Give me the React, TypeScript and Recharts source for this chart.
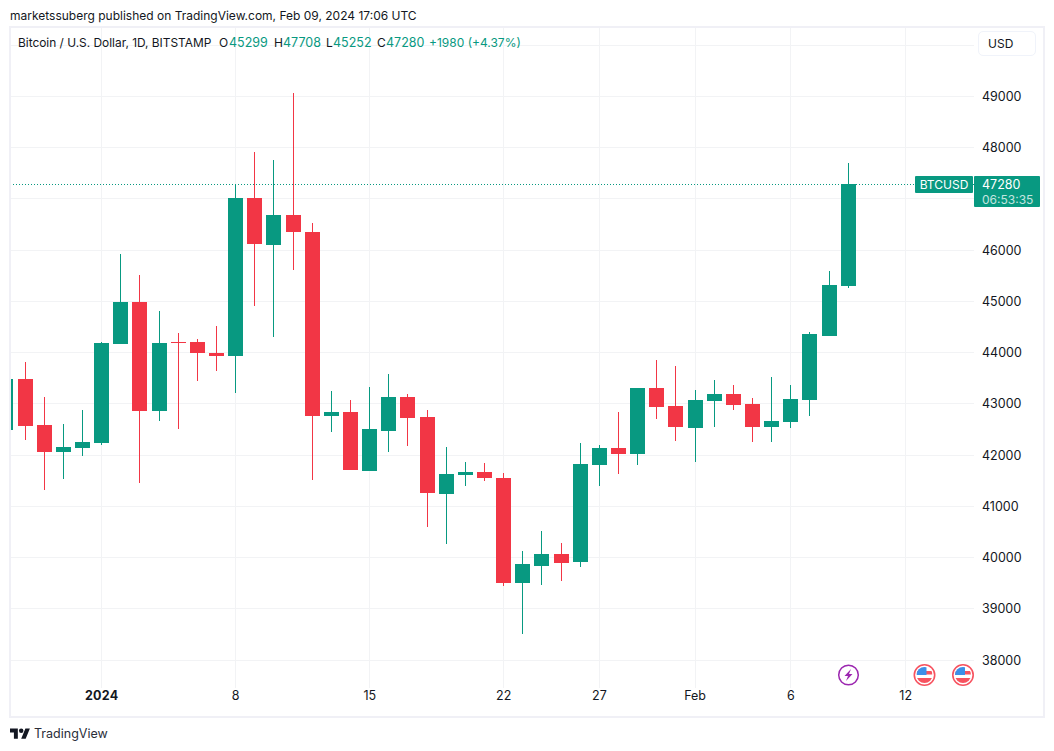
import { Bar, CartesianGrid, Cell, ComposedChart, ReferenceLine, XAxis, YAxis } from "recharts";

const dates = [
  "Dec 27", "Dec 28", "Dec 29", "Dec 30", "Dec 31",
  "Jan 1", "Jan 2", "Jan 3", "Jan 4", "Jan 5", "Jan 6", "Jan 7", "Jan 8", "Jan 9", "Jan 10",
  "Jan 11", "Jan 12", "Jan 13", "Jan 14", "Jan 15", "Jan 16", "Jan 17", "Jan 18", "Jan 19", "Jan 20",
  "Jan 21", "Jan 22", "Jan 23", "Jan 24", "Jan 25", "Jan 26", "Jan 27", "Jan 28", "Jan 29", "Jan 30", "Jan 31",
  "Feb 1", "Feb 2", "Feb 3", "Feb 4", "Feb 5", "Feb 6", "Feb 7", "Feb 8", "Feb 9",
];
const opens = [
  42491, 43486, 42588, 42062, 42140,
  42237, 44169, 44988, 42861, 44208, 44208, 43994, 43935, 47016, 46100,
  46685, 46353, 42764, 42842, 41691, 42471, 43135, 42744, 41243, 41613,
  41671, 41554, 39507, 39839, 40073, 39917, 41808, 42140, 42023, 43310, 42959,
  42530, 43056, 43193, 42998, 42549, 42647, 43076, 44325, 45299,
];
const highs = [
  43486, 43818, 43135, 42608, 42881,
  44208, 45924, 45514, 44812, 44383, 44266, 44520, 47289, 47914, 47758,
  49064, 46529, 43251, 43076, 43330, 43584, 43193, 42881, 42159, 41867,
  41847, 41652, 40131, 40521, 40287, 42237, 42198, 42842, 43310, 43857, 43740,
  43271, 43466, 43369, 43115, 43525, 43369, 44403, 45592, 47708,
];
const lows = [
  42491, 42296, 41321, 41535, 41984,
  42198, 44169, 41463, 42666, 42510, 43447, 43642, 43213, 44910, 44305,
  45612, 41515, 42452, 41710, 41691, 42062, 42179, 40599, 40267, 41399,
  41496, 39449, 38512, 39468, 39546, 39819, 41399, 41632, 41808, 42705, 42276,
  41867, 42549, 42881, 42257, 42257, 42530, 42764, 44325, 45252,
];
const closes = [
  43486, 42569, 42062, 42159, 42257,
  44189, 44988, 42861, 44189, 44189, 43994, 43935, 47016, 46119, 46685,
  46353, 42764, 42842, 41710, 42510, 43135, 42725, 41262, 41632, 41671,
  41554, 39507, 39878, 40073, 39897, 41828, 42140, 42023, 43310, 42939, 42549,
  43076, 43193, 42978, 42549, 42666, 43096, 44364, 45320, 47280,
];

const xTickDates = ["Jan 1", "Jan 8", "Jan 15", "Jan 22", "Jan 27", "Feb 1", "Feb 6"];
const xTickLabels = ["2024", "8", "15", "22", "27", "Feb", "6", "12"];
// 47000 is hidden behind the price tag and 50000 behind the USD button, only their grid lines show
const priceTicks = [38000, 39000, 40000, 41000, 42000, 43000, 44000, 45000, 46000, 48000, 49000];
const gridPrices = [...priceTicks, 47000, 50000];
const lastPrice = 47280;

const UP = "#089981";
const DOWN = "#F23645";
const TEXT = "#131722";
const FONT = "Inter, sans-serif";

const candles = dates.map((date, i) => ({
  i,
  date,
  body: [Math.min(opens[i], closes[i]), Math.max(opens[i], closes[i])],
  wick: [lows[i], highs[i]],
  up: closes[i] >= opens[i],
}));

// Feb 12 has no candle yet, it sits three days past the last one
const xTicks = [...xTickDates.map((d) => dates.indexOf(d)), dates.length + 2];
const xDomain = [0.259, 50.57];

function TimeTick({ x, y, payload }: any) {
  const label = xTickLabels[xTicks.indexOf(payload.value)];
  return (
    <text
      x={x}
      y={y}
      dy={4}
      textAnchor="middle"
      fill={TEXT}
      fontSize={12.5}
      fontFamily={FONT}
      fontWeight={label === "2024" ? 700 : 400}
      letterSpacing={label === "2024" ? 0.3 : 0}
      style={{ shapeRendering: "auto" }}
    >
      {label}
    </text>
  );
}

const abs = (left: number, top: number, extra: any = {}) => ({
  position: "absolute" as const,
  left,
  top,
  whiteSpace: "nowrap" as const,
  lineHeight: "16px",
  ...extra,
});

function Legend() {
  const items: [number, string, string, number][] = [
    [18, "Bitcoin / U.S. Dollar, 1D, BITSTAMP", TEXT, 11.9],
    [219, "O", TEXT, 12],
    [229, "45299", UP, 12.5],
    [274, "H", TEXT, 12],
    [283, "47708", UP, 12.5],
    [326, "L", TEXT, 12],
    [333, "45252", UP, 12.5],
    [377, "C", TEXT, 12],
    [386, "47280", UP, 12.5],
    [429, "+1980 (+4.37%)", UP, 12],
  ];
  return (
    <>
      {items.map(([left, label, color, fontSize]) => (
        <span key={left} style={abs(left, 35, { color, fontSize })}>
          {label}
        </span>
      ))}
    </>
  );
}

function Flag({ cx }: { cx: number }) {
  return (
    <g>
      <circle cx={cx} cy={675} r={10.2} fill="#fff" stroke="#F7525F" strokeWidth={1.6} />
      <clipPath id={`flag${cx}`}>
        <circle cx={cx} cy={675} r={8} />
      </clipPath>
      <g clipPath={`url(#flag${cx})`}>
        <rect x={cx - 8} y={671} width={16} height={3.5} fill="#F7525F" />
        <rect x={cx - 8} y={678} width={16} height={5} fill="#F7525F" />
        <rect x={cx - 8} y={667} width={10} height={8} fill="#3D8FE8" />
      </g>
    </g>
  );
}

export default function App() {
  return (
    <div style={{ position: "absolute", left: 0, top: 0, width: 1054, height: 751, background: "#fff", fontFamily: FONT, color: TEXT, overflow: "hidden" }}>
      <ComposedChart
        width={1054}
        height={751}
        data={candles}
        margin={{ top: 28, right: 10, bottom: 35, left: 11 }}
        style={{ position: "absolute", left: 0, top: 0, shapeRendering: "crispEdges" }}
      >
        <CartesianGrid stroke="#F2F3F5" horizontalValues={gridPrices} verticalValues={xTicks} />
        <XAxis
          dataKey="i"
          type="number"
          domain={xDomain}
          allowDataOverflow
          ticks={xTicks}
          axisLine={false}
          tickLine={false}
          height={28}
          interval={0}
          tick={<TimeTick />}
        />
        <XAxis xAxisId="wick" dataKey="i" type="number" domain={xDomain} allowDataOverflow hide />
        <YAxis
          orientation="right"
          type="number"
          domain={[37459, 50332]}
          allowDataOverflow
          ticks={priceTicks}
          width={70}
          axisLine={false}
          tickLine={false}
          tickSize={0}
          tickMargin={8}
          interval={0}
          tick={{ fill: TEXT, fontSize: 12.5, fontFamily: FONT }}
        />
        <ReferenceLine y={lastPrice} stroke={UP} strokeDasharray="1 2" />
        <Bar xAxisId="wick" dataKey="wick" barSize={1} isAnimationActive={false}>
          {candles.map((c) => (
            <Cell key={c.i} fill={c.up ? UP : DOWN} />
          ))}
        </Bar>
        <Bar dataKey="body" barSize={15} minPointSize={1} isAnimationActive={false}>
          {candles.map((c) => (
            <Cell key={c.i} fill={c.up ? UP : DOWN} />
          ))}
        </Bar>
      </ComposedChart>

      {/* frame around the pane */}
      <div style={{ position: "absolute", left: 9, top: 26, width: 1032, height: 688, border: "2px solid #F0F0F6", pointerEvents: "none" }} />

      <span style={abs(10, 8, { fontSize: 12 })}>marketssuberg published on TradingView.com, Feb 09, 2024 17:06 UTC</span>
      <Legend />

      <div style={abs(978, 31, { width: 58, height: 25, boxSizing: "border-box", border: "1px solid #F0F3FA", borderRadius: 5, background: "#fff", fontSize: 12, lineHeight: "24px", paddingLeft: 9 })}>USD</div>

      <div style={abs(915, 176, { width: 58, height: 17, background: UP, color: "#fff", fontSize: 12, lineHeight: "17px", textAlign: "center", borderRadius: 1 })}>BTCUSD</div>
      <div style={abs(974, 176, { width: 66, height: 31, background: UP, color: "#fff", fontSize: 12, borderRadius: 1 })}>
        <div style={{ paddingLeft: 8, paddingTop: 1, lineHeight: "15px", fontSize: 12.5 }}>47280</div>
        <div style={{ paddingLeft: 8, lineHeight: "15px", opacity: 0.75 }}>06:53:35</div>
      </div>

      <svg width={1054} height={751} style={{ position: "absolute", left: 0, top: 0, pointerEvents: "none" }}>
        <circle cx={848.5} cy={675} r={9.8} fill="#fff" stroke="#9C27B0" strokeWidth={1.5} />
        <path d="M851 669 L844.5 676 L848 676 L846 681 L852.5 674 L849 674 Z" fill="#9C27B0" />
        <Flag cx={924.5} />
        <Flag cx={963} />
        <g transform="translate(10 728) scale(0.56)" fill={TEXT}>
          <path d="M14 19H7V8H0V1h14v18zM28 19h-8l7.5-18h8L28 19z" />
          <circle cx="20" cy="5" r="4" />
        </g>
      </svg>
      <span style={abs(34, 726, { fontSize: 12.5, color: "#2A2E39" })}>TradingView</span>
    </div>
  );
}
